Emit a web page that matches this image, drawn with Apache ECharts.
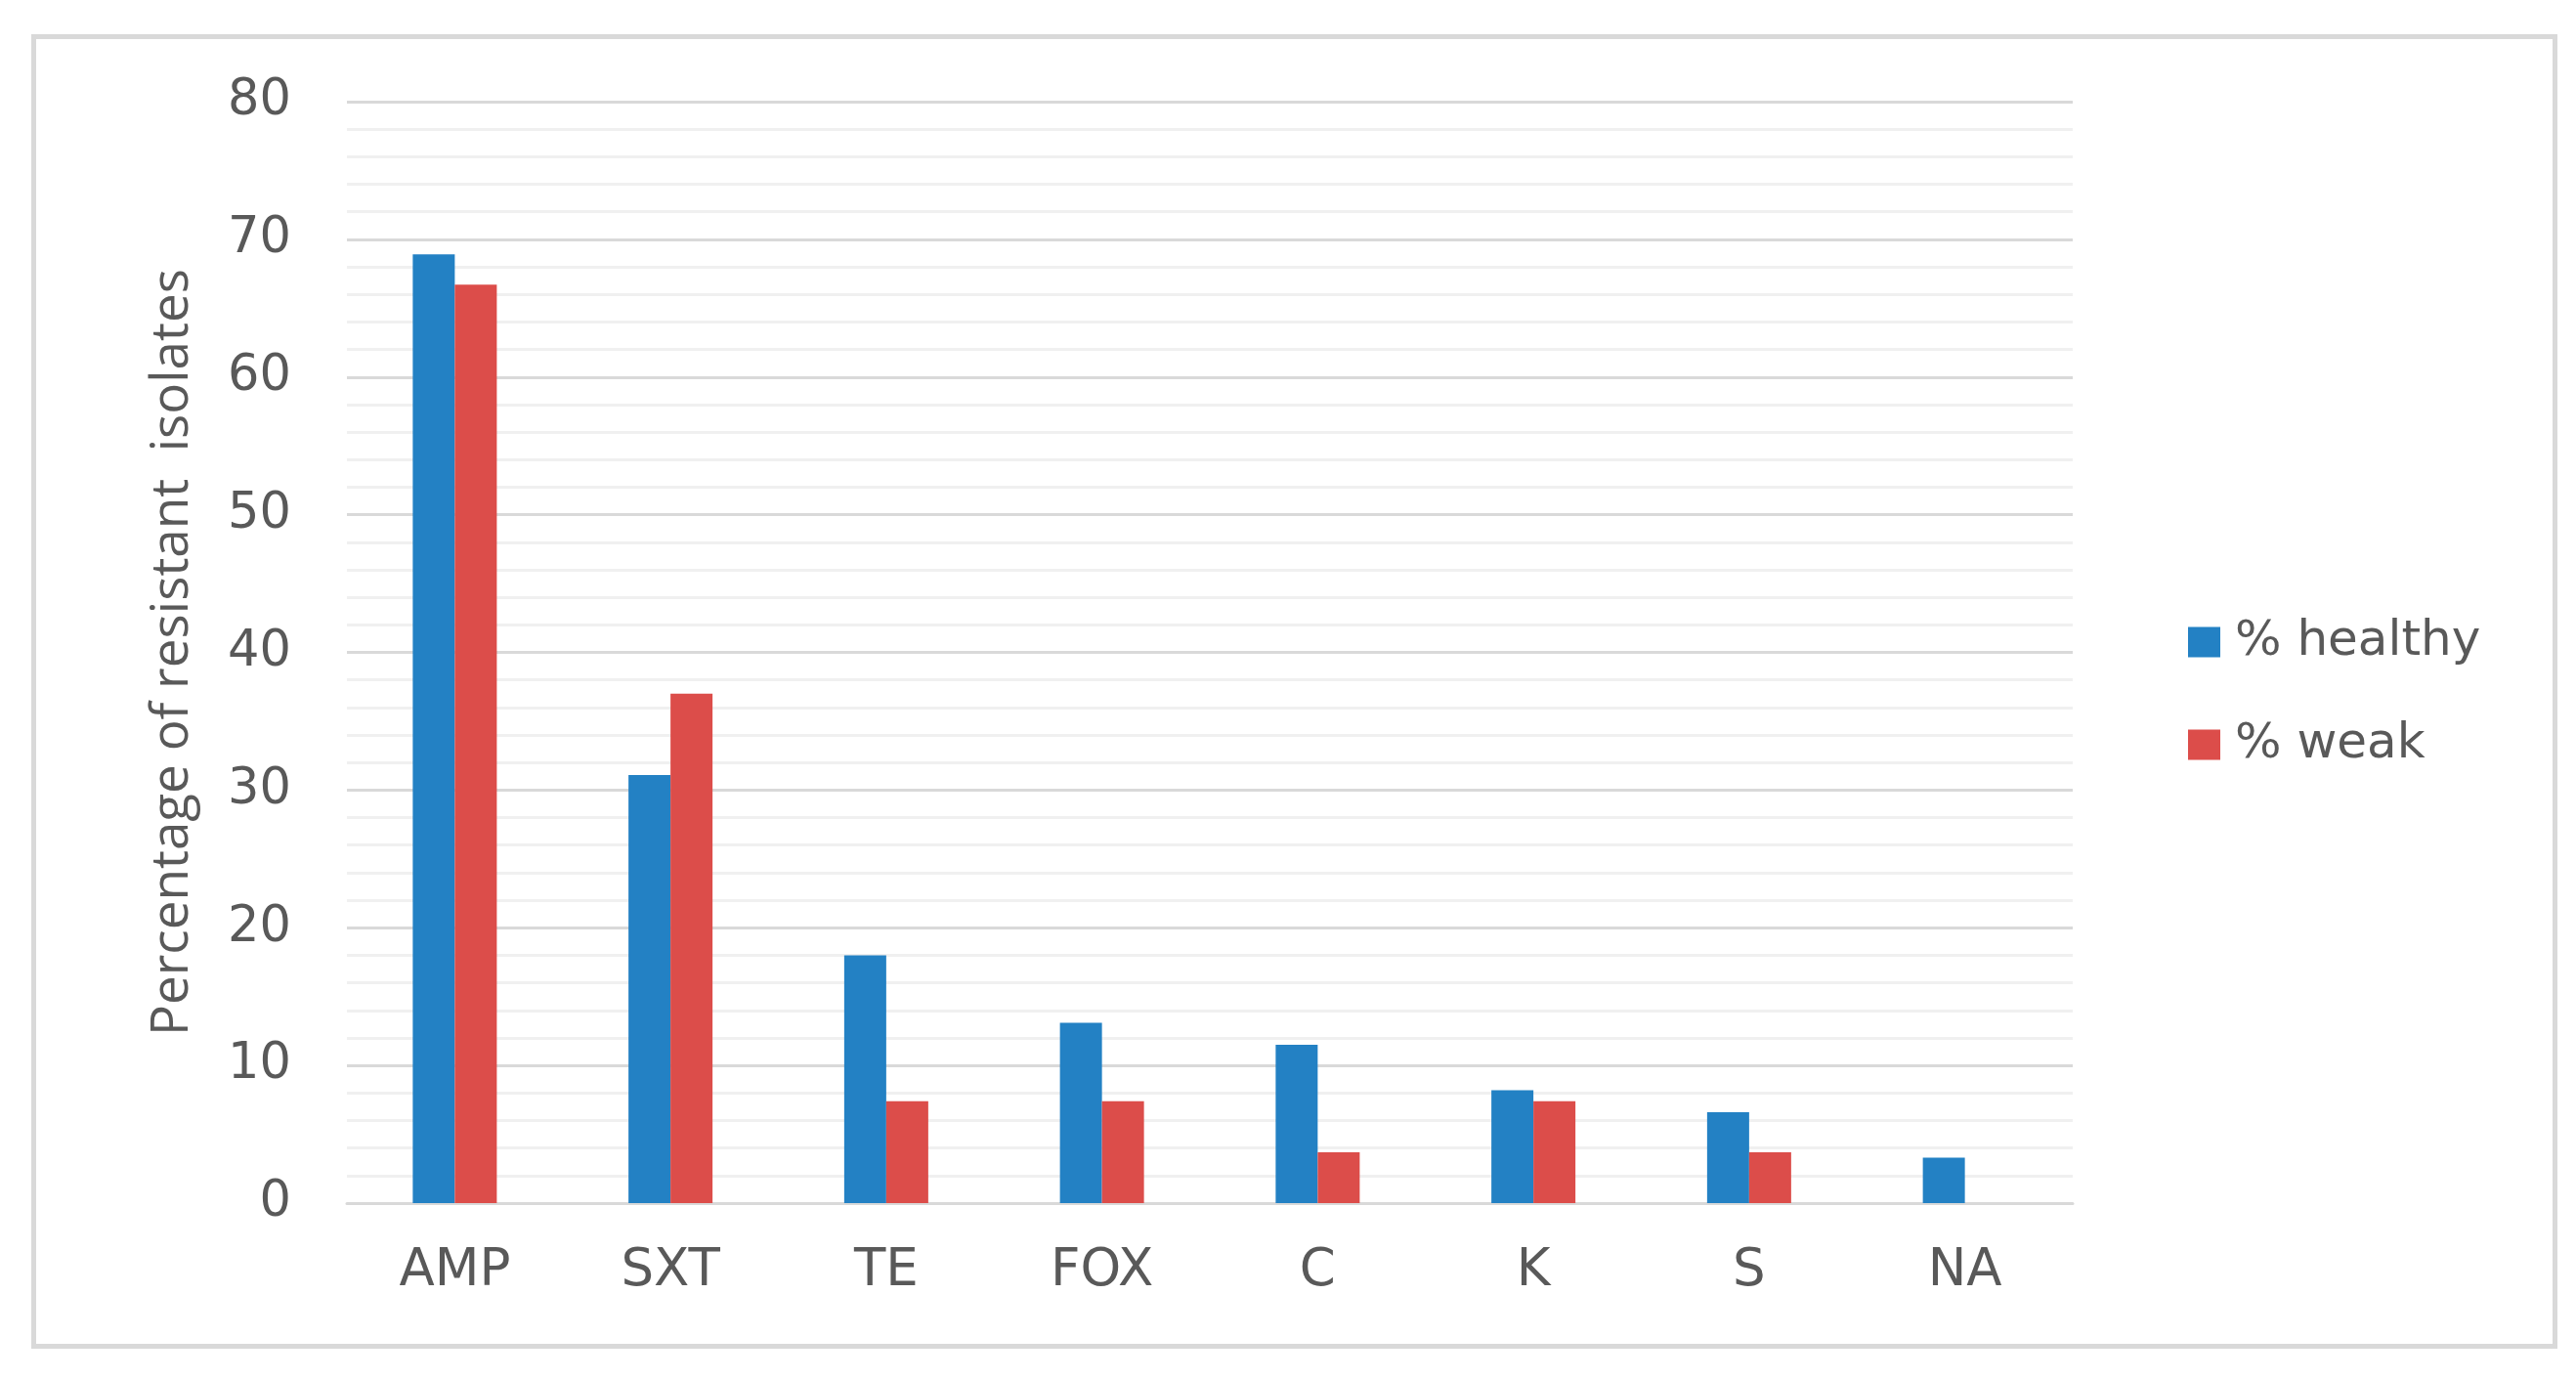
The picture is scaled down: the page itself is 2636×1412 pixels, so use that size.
<!DOCTYPE html>
<html>
<head>
<meta charset="utf-8">
<script src="https://cdn.jsdelivr.net/npm/echarts@6/dist/echarts.min.js"></script>
<style>
html,body{margin:0;padding:0;background:#fff;}
#chart{width:2636px;height:1412px;}
</style>
</head>
<body>
<div id="chart"></div>
<script>
const categories = ['AMP', 'SXT', 'TE', 'FOX', 'C', 'K', 'S', 'NA'];
const healthy = [68.9, 31.1, 18.0, 13.1, 11.5, 8.2, 6.6, 3.3];
const weak = [66.7, 37.0, 7.4, 7.4, 3.7, 7.4, 3.7, 0];
const seriesNames = ['% healthy', '% weak'];
const yTitle = 'Percentage of resistant  isolates';

const chart = echarts.init(document.getElementById('chart'), null, {renderer: 'canvas'});
const FONT = '"DejaVu Sans", "Open Sans", sans-serif';
const TFONT = '"Open Sans", "Noto Sans", sans-serif';
chart.setOption({
  animation: false,
  backgroundColor: '#ffffff',
  graphic: [{
    type: 'rect',
    left: 32, top: 35,
    shape: {width: 2580, height: 1340},
    style: {fill: 'none', stroke: '#D9D9D9', lineWidth: 5},
    silent: true, z: -1
  }],
  grid: {left: 355, right: 515, top: 104, bottom: 181, containLabel: false},
  legend: {
    orient: 'vertical',
    left: 2234,
    top: 627,
    itemWidth: 33,
    itemHeight: 31,
    itemGap: 55,
    icon: 'rect',
    data: seriesNames,
    textStyle: {fontFamily: FONT, fontSize: 50, color: '#595959', lineHeight: 50, padding: [0, 0, 0, 10]}
  },
  xAxis: {
    type: 'category',
    data: categories,
    axisLine: {show: true, lineStyle: {color: '#D9D9D9', width: 3}},
    axisTick: {show: false},
    axisLabel: {fontFamily: FONT, fontSize: 53, color: '#595959', margin: 44}
  },
  yAxis: {
    type: 'value',
    min: 0, max: 80, interval: 10,
    name: yTitle,
    nameLocation: 'middle',
    nameGap: 152,
    nameTextStyle: {fontFamily: TFONT, fontSize: 53, color: '#595959'},
    axisLine: {show: false},
    axisTick: {show: false},
    axisLabel: {fontFamily: FONT, fontSize: 51, color: '#595959', margin: 57},
    splitLine: {show: true, lineStyle: {color: '#D9D9D9', width: 3}},
    minorTick: {show: false, splitNumber: 5},
    minorSplitLine: {show: true, lineStyle: {color: '#F0F0F0', width: 3}}
  },
  series: [
    {name: seriesNames[0], type: 'bar', data: healthy, barWidth: 43, barGap: '0%',
     itemStyle: {color: '#2381C4'}},
    {name: seriesNames[1], type: 'bar', data: weak, barWidth: 43, barGap: '0%',
     itemStyle: {color: '#DC4D4A'}}
  ]
});
</script>
</body>
</html>
